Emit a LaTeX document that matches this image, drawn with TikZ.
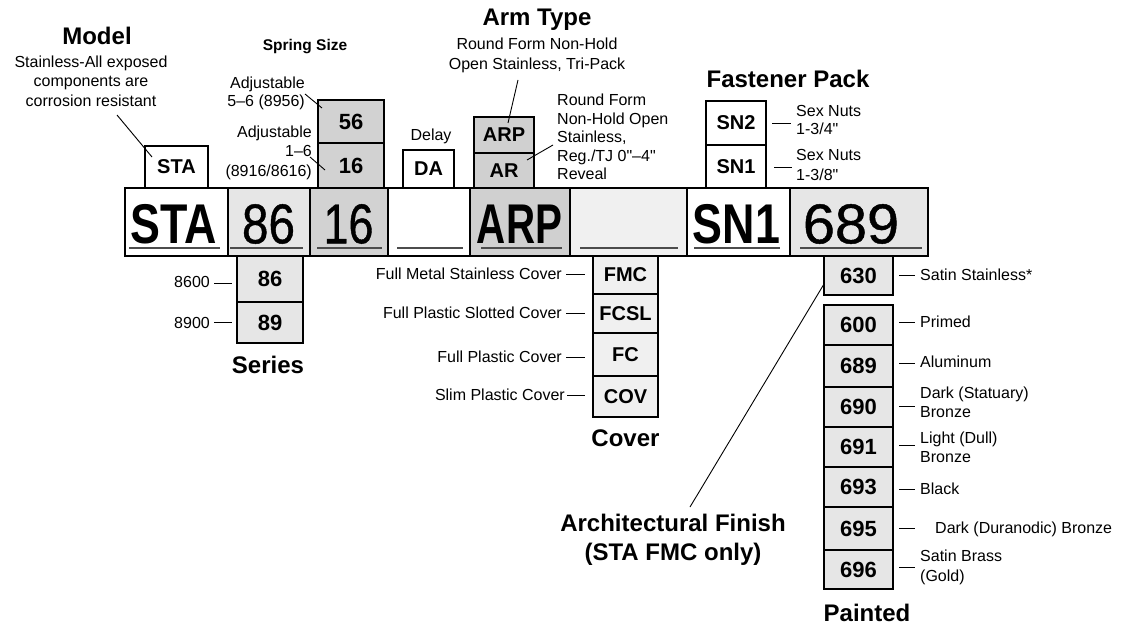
\documentclass[tikz,border=0pt]{standalone}
\usepackage{fontspec}
\setmainfont{Liberation Sans}[Ligatures=TeXOff]
\newfontfamily\medfont{Liberation Sans}[Ligatures=TeXOff, FakeBold=0.8]
\definecolor{gLight}{HTML}{E6E6E6}
\definecolor{gMid}{HTML}{D2D2D2}
\definecolor{gArm}{HTML}{D0D0D0}
\definecolor{gPale}{HTML}{F0F0F0}
\begin{document}
\begin{tikzpicture}[x=1pt,y=-1pt,
  cellbox/.style={draw=black, line width=2.6pt, inner sep=0pt, minimum height=68pt},
  sbox/.style={draw=black, line width=2.4pt, inner sep=0pt},
  bigtxt/.style={inner sep=0pt, font=\fontsize{56}{60}\selectfont},
  lettxt/.style={font=\fontsize{20}{22}\selectfont\bfseries},
  digtxt/.style={font=\fontsize{22}{24}\selectfont\bfseries},
  small/.style={inner sep=0pt, font=\fontsize{16}{19.5}\selectfont},
  titletxt/.style={inner sep=0pt, font=\fontsize{24}{29}\selectfont\bfseries},
  lead/.style={line width=0.9pt},
  uline/.style={line width=1.2pt, draw=black!70}]
\useasboundingbox (0,0) rectangle (1123,626);

% ---------- main bar ----------
\node[cellbox, fill=white, minimum width=103pt] (cSTA) at (176.5,222) {};
\node[cellbox, fill=gLight, minimum width=82pt] (c86) at (269,222) {};
\node[cellbox, fill=gMid, minimum width=78pt] (c16) at (349,222) {};
\node[cellbox, fill=white, minimum width=82pt] (cDel) at (429,222) {};
\node[cellbox, fill=gArm, minimum width=100pt] (cArm) at (520,222) {};
\node[cellbox, fill=gPale, minimum width=117pt] (cCov) at (628.5,222) {};
\node[cellbox, fill=white, minimum width=103pt] (cSN) at (738.5,222) {};
\node[cellbox, fill=gLight, minimum width=138pt] (cFin) at (859,222) {};

\node[bigtxt] (xSTA) at (174,224) {\bfseries\scalebox{0.8}[1]{STA}};
\node[bigtxt] (x86) at (268.5,224) {\medfont\scalebox{0.85}[1]{86}};
\node[bigtxt] (x16) at (348.5,224) {\medfont\scalebox{0.8}[1]{16}};
\node[bigtxt] (xARP) at (519.5,224) {\bfseries\scalebox{0.72}[1]{ARP}};
\node[bigtxt] (xSN) at (736.5,224) {\bfseries\scalebox{0.8}[1]{SN1}};
\node[bigtxt] (x689) at (851,224) {\medfont\scalebox{1.03}[1]{689}};

\draw[uline] (129,248) -- (220,248);
\draw[uline] (230,248) -- (303,248);
\draw[uline] (317,248) -- (382,248);
\draw[uline] (397,248) -- (463,248);
\draw[uline] (481,248) -- (562,248);
\draw[uline] (580,248) -- (678,248);
\draw[uline] (694,248) -- (780,248);
\draw[uline] (800,248) -- (922,248);

% ---------- top boxes ----------
\node[sbox, fill=white, minimum width=63pt, minimum height=42pt, lettxt] (tSTA) at (176.5,167) {STA};
\node[sbox, fill=gMid, minimum width=66pt, minimum height=43pt, digtxt] (t56) at (351,121.5) {56};
\node[sbox, fill=gMid, minimum width=66pt, minimum height=45pt, digtxt] (t16) at (351,165.5) {16};
\node[sbox, fill=white, minimum width=51pt, minimum height=38pt, lettxt] (tDA) at (428.5,169) {DA};
\node[sbox, fill=gArm, minimum width=60pt, minimum height=36pt, lettxt] (tARP) at (504,135) {ARP};
\node[sbox, fill=gArm, minimum width=60pt, minimum height=35pt, lettxt] (tAR) at (504,170.5) {AR};
\node[sbox, fill=white, minimum width=60pt, minimum height=44pt, lettxt] (tSN2) at (736,123) {SN2};
\node[sbox, fill=white, minimum width=60pt, minimum height=43pt, lettxt] (tSN1) at (736,166.5) {SN1};

% ---------- bottom boxes ----------
\node[sbox, fill=gLight, minimum width=66pt, minimum height=46pt, digtxt] (b86) at (270,279) {86};
\node[sbox, fill=gLight, minimum width=66pt, minimum height=41pt, digtxt] (b89) at (270,322.5) {89};

\node[sbox, fill=gPale, minimum width=65pt, minimum height=38pt, lettxt] (bFMC) at (625.5,275) {FMC};
\node[sbox, fill=gPale, minimum width=65pt, minimum height=39pt, lettxt] (bFCSL) at (625.5,313.5) {FCSL};
\node[sbox, fill=gPale, minimum width=65pt, minimum height=43pt, lettxt] (bFC) at (625.5,354.5) {FC};
\node[sbox, fill=gPale, minimum width=65pt, minimum height=41pt, lettxt] (bCOV) at (625.5,396.5) {COV};

\node[sbox, fill=gLight, minimum width=69pt, minimum height=39pt, digtxt] (f630) at (858.5,275.5) {630};
\node[sbox, fill=gLight, minimum width=69pt, minimum height=40pt, digtxt] (f600) at (858.5,325) {600};
\node[sbox, fill=gLight, minimum width=69pt, minimum height=42pt, digtxt] (f689) at (858.5,366) {689};
\node[sbox, fill=gLight, minimum width=69pt, minimum height=40pt, digtxt] (f690) at (858.5,407) {690};
\node[sbox, fill=gLight, minimum width=69pt, minimum height=40pt, digtxt] (f691) at (858.5,447) {691};
\node[sbox, fill=gLight, minimum width=69pt, minimum height=40pt, digtxt] (f693) at (858.5,487) {693};
\node[sbox, fill=gLight, minimum width=69pt, minimum height=43pt, digtxt] (f695) at (858.5,528.5) {695};
\node[sbox, fill=gLight, minimum width=69pt, minimum height=39pt, digtxt] (f696) at (858.5,569.5) {696};

% ---------- titles ----------
\node[titletxt] (tiModel) at (97,36) {Model};
\node[inner sep=0pt, font=\fontsize{15.5}{18}\selectfont\bfseries] (tiSpring) at (305,47) {Spring Size};
\node[titletxt] (tiArm) at (537,20) {Arm Type};
\node[titletxt] (tiFast) at (788,79) {Fastener Pack};
\node[titletxt] (tiSeries) at (268,365) {Series};
\node[titletxt] (tiCover) at (625.5,438) {Cover};
\node[titletxt] (tiPaint) at (867,613) {Painted};
\node[titletxt, align=center] (tiArch) at (673,540) {Architectural Finish\\(STA FMC only)};

% ---------- top labels ----------
\node[small, align=center] (lModel) at (91,81) {Stainless-All exposed\\components are\\corrosion resistant};
\node[small, align=right, anchor=east, font=\fontsize{16}{17.5}\selectfont] (l56) at (305,93.5) {Adjustable\\5–6 (8956)};
\node[small, align=right, anchor=east] (l16) at (312,152.5) {Adjustable\\1–6\\(8916/8616)};
\node[small] (lDelay) at (431,136) {Delay};
\node[small, align=center, font=\fontsize{16}{20}\selectfont] (lARP) at (537,55) {Round Form Non-Hold\\Open Stainless, Tri-Pack};
\node[small, align=left, anchor=west, font=\fontsize{16}{18.5}\selectfont] (lAR) at (557,137) {Round Form\\Non-Hold Open\\Stainless,\\Reg./TJ 0"–4"\\Reveal};
\node[small, align=left, anchor=west, font=\fontsize{16}{18}\selectfont] (lSN2) at (796,120) {Sex Nuts\\1-3/4"};
\node[small, align=left, anchor=west, font=\fontsize{16}{20}\selectfont] (lSN1) at (796,165) {Sex Nuts\\1-3/8"};

\coordinate (mA) at (117,115); \coordinate (mB) at (152,157);
\draw[lead] (mA) -- (mB);
\coordinate (s1A) at (305,94); \coordinate (s1B) at (322,108);
\draw[lead] (s1A) -- (s1B);
\coordinate (s2A) at (310,157); \coordinate (s2B) at (325,170);
\draw[lead] (s2A) -- (s2B);
\coordinate (a1A) at (518,80); \coordinate (a1B) at (508,123);
\draw[lead] (a1A) -- (a1B);
\coordinate (a2A) at (553,145); \coordinate (a2B) at (527,160);
\draw[lead] (a2A) -- (a2B);
\coordinate (n2A) at (772,123); \coordinate (n2B) at (791,123);
\draw[lead] (n2A) -- (n2B);
\coordinate (n1A) at (774,167); \coordinate (n1B) at (792,167);
\draw[lead] (n1A) -- (n1B);

% ---------- series labels ----------
\node[small, anchor=east] (l8600) at (210,282) {8600};
\node[small, anchor=east] (l8900) at (210,323) {8900};
\coordinate (e1A) at (214,283); \coordinate (e1B) at (232,283);
\draw[lead] (e1A) -- (e1B);
\coordinate (e2A) at (214,322); \coordinate (e2B) at (232,322);
\draw[lead] (e2A) -- (e2B);

% ---------- cover labels ----------
\node[small, anchor=east] (lFMC) at (562,274) {Full Metal Stainless Cover};
\node[small, anchor=east] (lFCSL) at (562,313) {Full Plastic Slotted Cover};
\node[small, anchor=east] (lFC) at (562,357) {Full Plastic Cover};
\node[small, anchor=east] (lCOV) at (565,395) {Slim Plastic Cover};
\coordinate (v1A) at (566,274); \coordinate (v1B) at (585,274);
\draw[lead] (v1A) -- (v1B);
\coordinate (v2A) at (566,313); \coordinate (v2B) at (585,313);
\draw[lead] (v2A) -- (v2B);
\coordinate (v3A) at (566,357); \coordinate (v3B) at (585,357);
\draw[lead] (v3A) -- (v3B);
\coordinate (v4A) at (567,395); \coordinate (v4B) at (585,395);
\draw[lead] (v4A) -- (v4B);

% ---------- finish labels ----------
\node[small, anchor=west] (l630) at (920,275) {Satin Stainless*};
\node[small, anchor=west] (l600) at (920,322) {Primed};
\node[small, anchor=west] (l689) at (920,362) {Aluminum};
\node[small, anchor=west, align=left] (l690) at (920,402.5) {Dark (Statuary)\\Bronze};
\node[small, anchor=west, align=left] (l691) at (920,447.5) {Light (Dull)\\Bronze};
\node[small, anchor=west] (l693) at (920,489) {Black};
\node[small, anchor=west] (l695) at (935,529) {Dark (Duranodic) Bronze};
\node[small, anchor=west, align=left] (l696) at (920,567.5) {Satin Brass\\(Gold)};
\foreach \yy [count=\i] in {275,322,363,406,445,489,528,567}{
  \coordinate (w\i A) at (899,\yy); \coordinate (w\i B) at (915,\yy);
  \draw[lead] (w\i A) -- (w\i B);
}
\coordinate (arA) at (690,507); \coordinate (arB) at (824,284);
\draw[lead] (arA) -- (arB);
\end{tikzpicture}
\end{document}
